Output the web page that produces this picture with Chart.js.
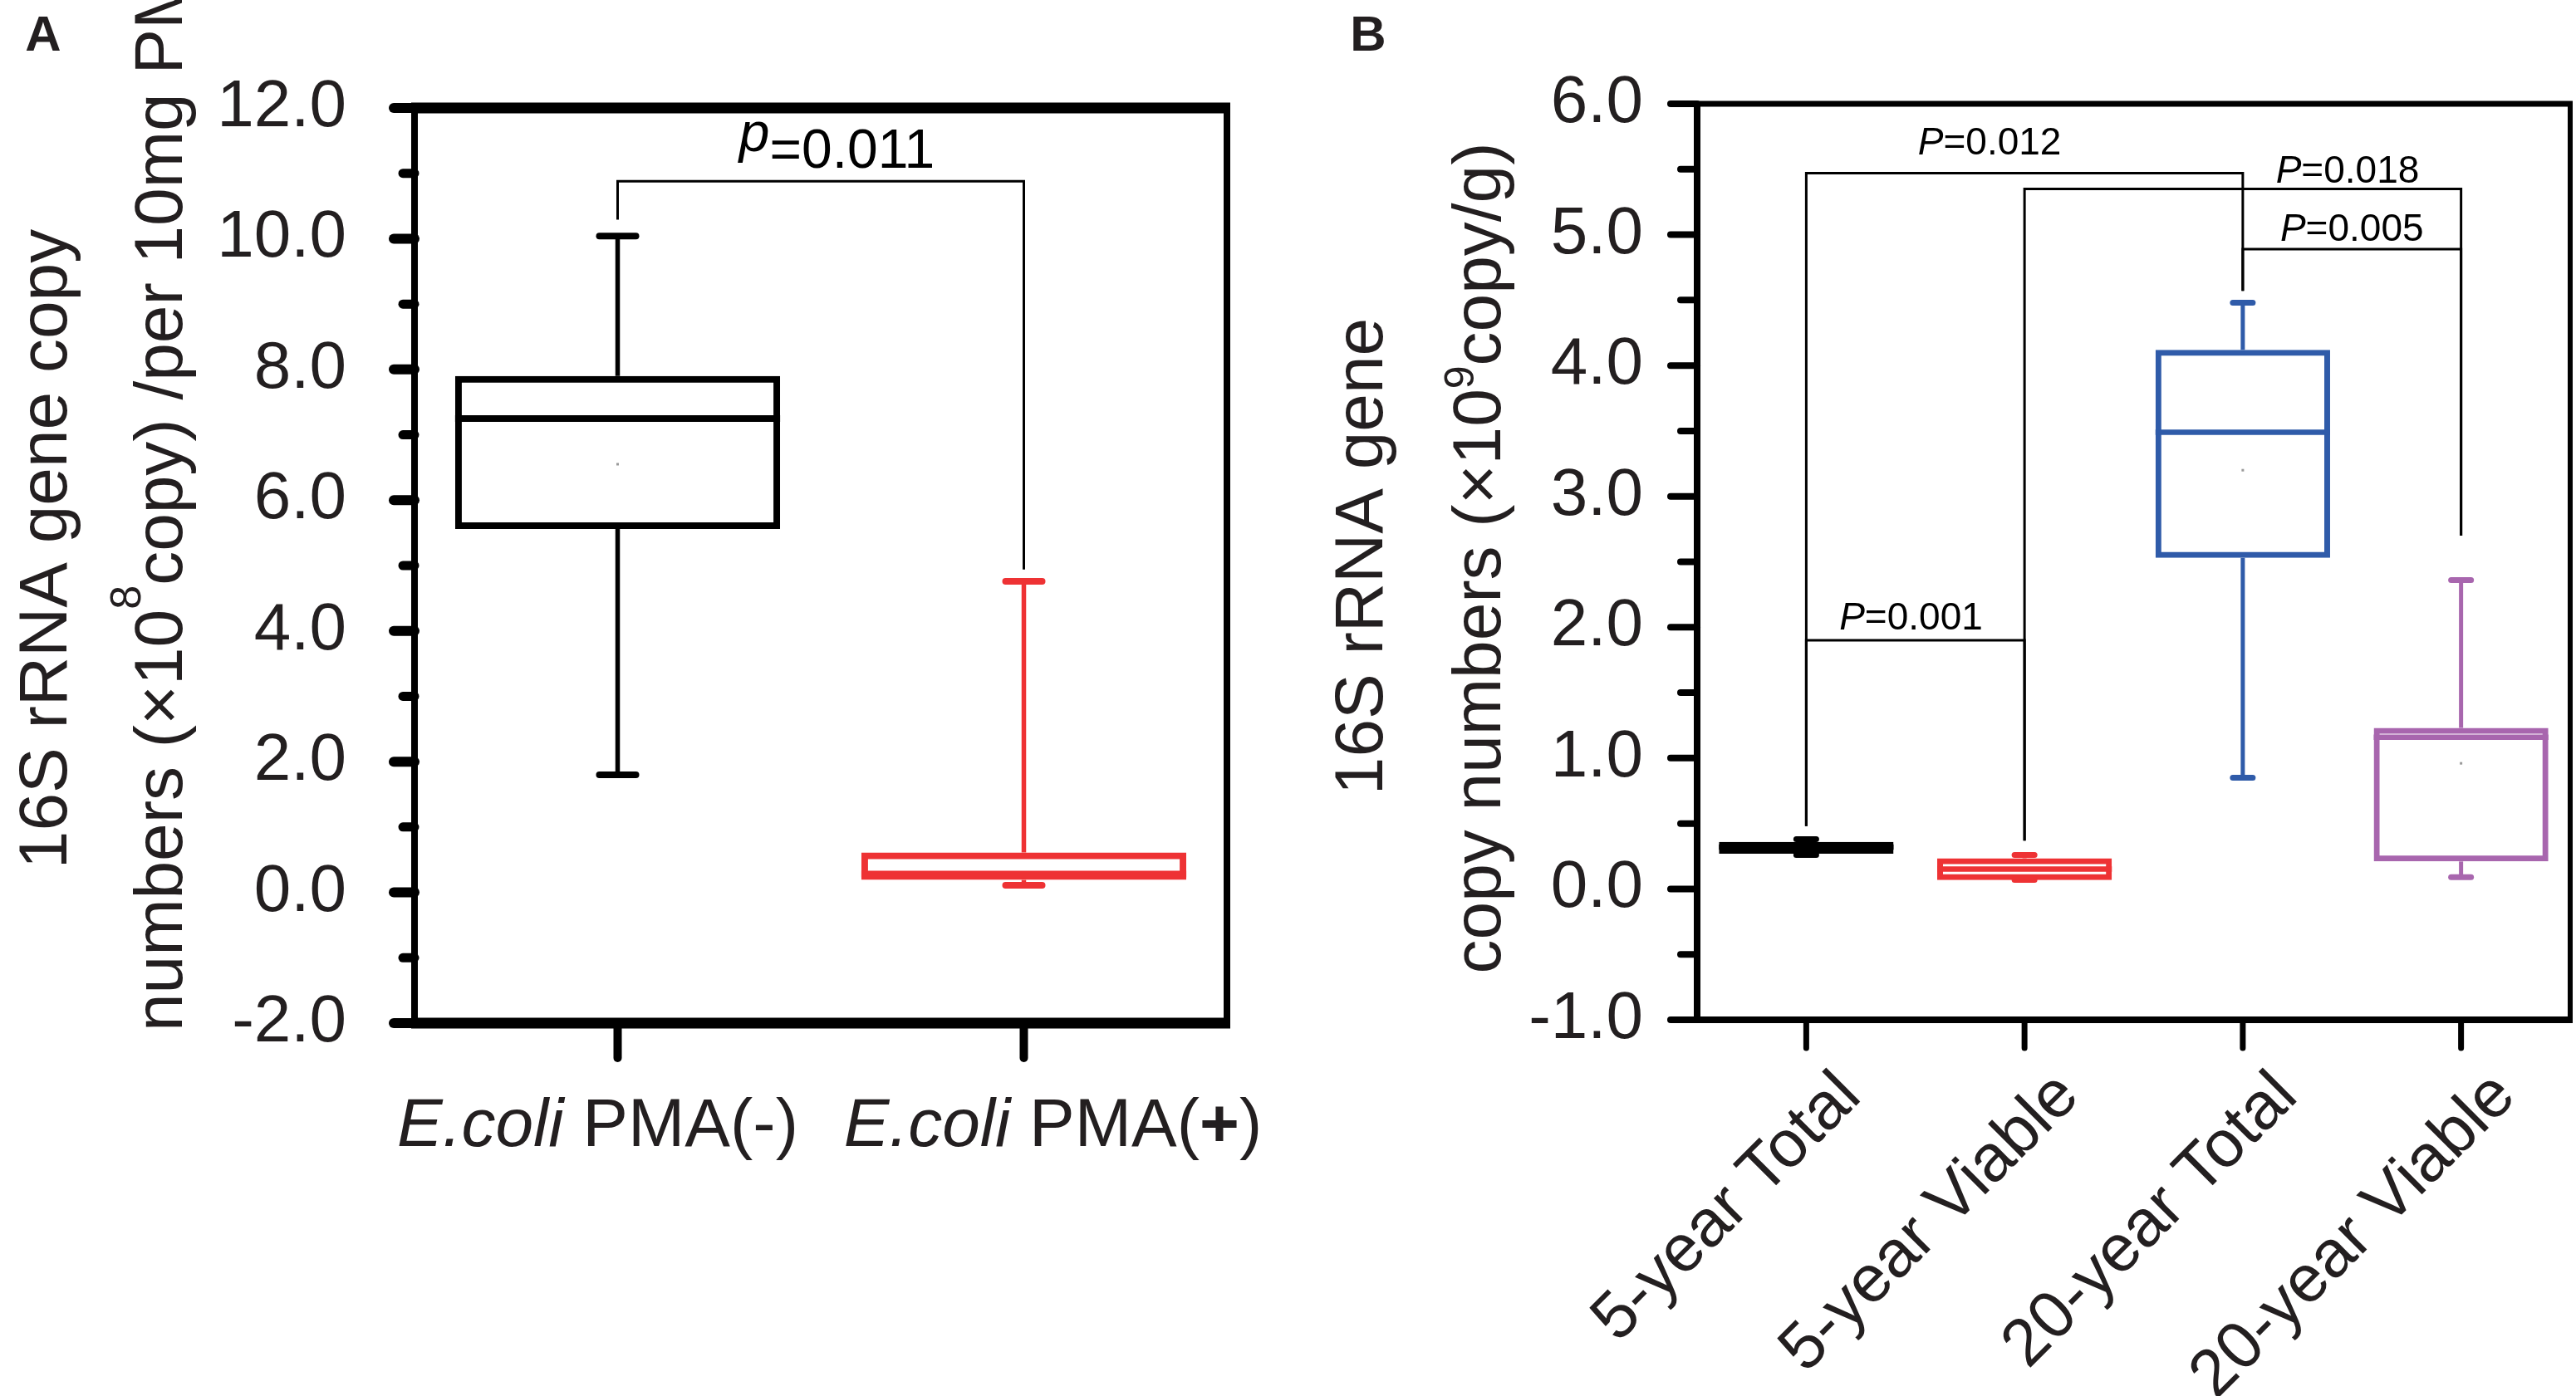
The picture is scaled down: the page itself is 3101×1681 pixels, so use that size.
<!DOCTYPE html>
<html>
<head>
<meta charset="utf-8">
<script src="https://cdn.jsdelivr.net/npm/chart.js@4.4.0/dist/chart.umd.min.js"></script>
<style>
  html, body { margin: 0; padding: 0; background: #fff; }
  body { width: 3101px; height: 1681px; position: relative; overflow: hidden; }
  canvas { position: absolute; top: 0; }
  #chartA { left: 0; }
  #chartB { left: 1600px; }
</style>
</head>
<body>
<canvas id="chartA" width="1600" height="1681"></canvas>
<canvas id="chartB" width="1501" height="1681"></canvas>
<script>
// ---- panel A data ----
var catsA = ['E.coli PMA(-)', 'E.coli PMA(+)'];
var minA = [1.80, 0.11];
var q1A = [5.56, 0.19];
var medA = [7.25, 0.28];
var q3A = [7.90, 0.61];
var maxA = [10.04, 4.76];
var meanA = [6.55, null];
var ticksA = [-2, 0, 2, 4, 6, 8, 10, 12];
// significance bracket A
var pFromA = [0], pToA = [1];
var pTopA = [10.88], pLeftEndA = [10.29], pRightEndA = [4.94];
var pTextA = ['0.011'], pTextXA = [0.54], pTextYA = [11.09];

// ---- panel B data ----
var catsB = ['5-year Total', '5-year Viable', '20-year Total', '20-year Viable'];
var minB = [0.26, 0.07, 0.85, 0.09];
var q1B = [0.27, 0.067, 2.53, 0.21];
var medB = [0.32, 0.152, 3.49, 1.16];
var q3B = [0.36, 0.235, 4.12, 1.23];
var maxB = [0.38, 0.26, 4.48, 2.36];
var meanB = [null, null, 3.2, 0.96];
var ticksB = [-1, 0, 1, 2, 3, 4, 5, 6];
// significance brackets B
var pFromB = [0, 1, 2, 0], pToB = [2, 3, 3, 1];
var pTopB = [5.47, 5.35, 4.89, 1.90];
var pLeftEndB = [0.48, 0.37, 4.57, 0.48];
var pRightEndB = [4.57, 2.70, 2.70, 0.37];
var pTextB = ['0.012', '0.018', '0.005', '0.001'];
var pTextXB = [0.84, 2.48, 2.50, 0.48];
var pTextYB = [5.61, 5.40, 4.95, 1.98];

var FONT = "'Liberation Sans', Arial, Helvetica, sans-serif";
var TEXT = '#231f20';

function seg(ctx, x1, y1, x2, y2) {
  ctx.beginPath(); ctx.moveTo(x1, y1); ctx.lineTo(x2, y2); ctx.stroke();
}

function drawRuns(ctx, x, y, angle, runs, align) {
  var total = 0;
  runs.forEach(function(r) { ctx.font = r.f; r.w = ctx.measureText(r.t).width; total += r.w; });
  ctx.save();
  ctx.translate(x, y);
  ctx.rotate(angle);
  ctx.textAlign = 'left';
  ctx.textBaseline = 'alphabetic';
  var cx = align === 'center' ? -total / 2 : (align === 'right' ? -total : 0);
  runs.forEach(function(r) { ctx.font = r.f; ctx.fillText(r.t, cx, r.dy || 0); cx += r.w; });
  ctx.restore();
}

function boxPlugin(cfg) {
  return {
    id: 'boxPlot',
    afterDatasetsDraw: function(chart) {
      var ctx = chart.ctx, xs = chart.scales.x, ys = chart.scales.y;
      var bars = chart.getDatasetMeta(0).data;
      ctx.save();
      bars.forEach(function(bar, i) {
        var cx = bar.x, half = bar.width / 2;
        ctx.strokeStyle = cfg.colors[i];
        ctx.lineCap = 'butt';
        ctx.lineWidth = cfg.whisker;
        seg(ctx, cx, ys.getPixelForValue(cfg.q3[i]), cx, ys.getPixelForValue(cfg.max[i]));
        seg(ctx, cx, ys.getPixelForValue(cfg.q1[i]), cx, ys.getPixelForValue(cfg.min[i]));
        ctx.lineCap = 'round';
        ctx.lineWidth = cfg.capLine;
        [cfg.max[i], cfg.min[i]].forEach(function(v) {
          var py = ys.getPixelForValue(v);
          seg(ctx, cx - cfg.capHalf, py, cx + cfg.capHalf, py);
        });
        ctx.lineCap = 'butt';
        ctx.lineWidth = cfg.boxLine;
        var pm = ys.getPixelForValue(cfg.med[i]);
        seg(ctx, cx - half, pm, cx + half, pm);
        if (cfg.mean[i] != null) {
          ctx.fillStyle = '#9a9a9a';
          ctx.fillRect(cx - 1.5, ys.getPixelForValue(cfg.mean[i]) - 1.5, 3, 3);
        }
      });
      // significance brackets
      ctx.strokeStyle = '#000';
      ctx.lineWidth = 3;
      ctx.lineJoin = 'miter';
      ctx.lineCap = 'butt';
      cfg.pFrom.forEach(function(f, i) {
        var x1 = xs.getPixelForValue(f), x2 = xs.getPixelForValue(cfg.pTo[i]);
        var yt = ys.getPixelForValue(cfg.pTop[i]);
        ctx.beginPath();
        ctx.moveTo(x1, ys.getPixelForValue(cfg.pLeftEnd[i]));
        ctx.lineTo(x1, yt);
        ctx.lineTo(x2, yt);
        ctx.lineTo(x2, ys.getPixelForValue(cfg.pRightEnd[i]));
        ctx.stroke();
      });
      ctx.fillStyle = '#000';
      cfg.pText.forEach(function(t, i) {
        drawRuns(ctx, xs.getPixelForValue(cfg.pTextX[i]), ys.getPixelForValue(cfg.pTextY[i]), 0, [
          { t: cfg.pLetter, f: 'italic ' + cfg.pSize + 'px ' + FONT, dy: cfg.pRaise },
          { t: '=' + t, f: cfg.pSize + 'px ' + FONT }
        ], 'center');
      });
      ctx.restore();
    },
    afterDraw: function(chart) {
      var ctx = chart.ctx, xs = chart.scales.x, ys = chart.scales.y, a = chart.chartArea;
      ctx.save();
      ctx.strokeStyle = '#000';
      // y ticks, major and minor
      ctx.lineCap = 'round';
      cfg.ticks.forEach(function(v, i) {
        var py = ys.getPixelForValue(v);
        ctx.lineWidth = cfg.majorLW;
        seg(ctx, a.left - cfg.majorLen, py, a.left, py);
        if (i < cfg.ticks.length - 1) {
          var pm = ys.getPixelForValue((v + cfg.ticks[i + 1]) / 2);
          ctx.lineWidth = cfg.minorLW;
          seg(ctx, a.left - cfg.minorLen, pm, a.left, pm);
        }
      });
      // x ticks
      ctx.lineWidth = cfg.xTickLW;
      xs.ticks.forEach(function(t, i) {
        var px = xs.getPixelForValue(i);
        seg(ctx, px, a.bottom, px, a.bottom + cfg.xTickLen);
      });
      // frame
      ctx.lineCap = 'butt';
      ctx.lineWidth = cfg.spine[0];
      seg(ctx, a.left - cfg.spine[3] / 2, a.top, a.right + cfg.spine[1] / 2, a.top);
      ctx.lineWidth = cfg.spine[2];
      seg(ctx, a.left - cfg.spine[3] / 2, a.bottom, a.right + cfg.spine[1] / 2, a.bottom);
      ctx.lineWidth = cfg.spine[3];
      seg(ctx, a.left, a.top, a.left, a.bottom);
      ctx.lineWidth = cfg.spine[1];
      seg(ctx, a.right, a.top, a.right, a.bottom);
      ctx.fillStyle = TEXT;
      cfg.decorate(ctx, chart);
      ctx.restore();
    }
  };
}

function decorateA(ctx, chart) {
  var xs = chart.scales.x;
  ctx.font = 'bold 60px ' + FONT;
  ctx.textAlign = 'center';
  ctx.textBaseline = 'middle';
  ctx.fillText('A', 52, 44);
  var shift = [-24, 35];
  catsA.forEach(function(c, i) {
    var parts = c.split(' ');
    var runs = [{ t: parts[0], f: 'italic 82px ' + FONT }, { t: ' ', f: '82px ' + FONT }];
    parts[1].split('').forEach(function(ch) {
      runs.push({ t: ch, f: (ch === '+' ? 'bold ' : '') + '82px ' + FONT });
    });
    drawRuns(ctx, xs.getPixelForValue(i) + shift[i], 1380, 0, runs, 'center');
  });
  drawRuns(ctx, 80, 661, -Math.PI / 2, [{ t: '16S rRNA gene copy', f: '82px ' + FONT }], 'center');
  drawRuns(ctx, 219, 1242, -Math.PI / 2, [
    { t: 'numbers (\u00d710', f: '82px ' + FONT },
    { t: '8', f: '52px ' + FONT, dy: -50 },
    { t: 'copy) /per 10mg PM', f: '82px ' + FONT }
  ], 'left');
}

function decorateB(ctx, chart) {
  var xs = chart.scales.x;
  ctx.font = 'bold 60px ' + FONT;
  ctx.textAlign = 'center';
  ctx.textBaseline = 'middle';
  ctx.fillText('B', 47, 44);
  ctx.font = '80px ' + FONT;
  catsB.forEach(function(c, i) {
    ctx.save();
    ctx.translate(xs.getPixelForValue(i) + 53, 1307);
    ctx.rotate(-Math.PI / 4);
    ctx.textAlign = 'right';
    ctx.textBaseline = 'middle';
    ctx.fillText(c, 0, 0);
    ctx.restore();
  });
  drawRuns(ctx, 64, 670, -Math.PI / 2, [{ t: '16S rRNA gene', f: '82px ' + FONT }], 'center');
  drawRuns(ctx, 206, 672, -Math.PI / 2, [
    { t: 'copy numbers (\u00d710', f: '82px ' + FONT },
    { t: '9', f: '50px ' + FONT, dy: -32 },
    { t: 'copy/g)', f: '82px ' + FONT }
  ], 'center');
}

function makeChart(id, cats, q1, q3, colors, ticks, yFont, yPad, yWidth, xHeight, pad, borderW, plugin) {
  return new Chart(document.getElementById(id).getContext('2d'), {
    type: 'bar',
    data: {
      labels: cats,
      datasets: [{
        data: q1.map(function(v, i) { return [v, q3[i]]; }),
        backgroundColor: 'rgba(255,255,255,0)',
        borderColor: colors,
        borderWidth: borderW,
        borderSkipped: false,
        categoryPercentage: 1,
        barPercentage: 0.8
      }]
    },
    options: {
      responsive: false,
      devicePixelRatio: 1,
      animation: false,
      layout: { padding: pad },
      plugins: { legend: { display: false }, tooltip: { enabled: false }, title: { display: false } },
      scales: {
        x: {
          grid: { display: false, drawTicks: false },
          border: { display: false },
          ticks: { display: false },
          afterFit: function(s) { s.height = xHeight; }
        },
        y: {
          min: ticks[0],
          max: ticks[ticks.length - 1],
          grid: { display: false, drawTicks: false },
          border: { display: false },
          afterBuildTicks: function(s) { s.ticks = ticks.map(function(v) { return { value: v }; }); },
          ticks: {
            padding: yPad,
            color: TEXT,
            font: { family: FONT, size: yFont },
            callback: function(v) { return Number(v).toFixed(1); }
          },
          afterFit: function(s) { s.width = yWidth; }
        }
      }
    },
    plugins: [plugin]
  });
}

var colorsA = ['#000000', '#ee3234'];
makeChart('chartA', catsA, q1A, q3A, colorsA, ticksA, 80, 82, 499, 449,
  { top: 129, right: 123, left: 0, bottom: 0 }, 8,
  boxPlugin({
    colors: colorsA, q1: q1A, q3: q3A, med: medA, min: minA, max: maxA, mean: meanA,
    whisker: 5.5, capLine: 8, capHalf: 22, boxLine: 8,
    pFrom: pFromA, pTo: pToA, pTop: pTopA, pLeftEnd: pLeftEndA, pRightEnd: pRightEndA,
    pText: pTextA, pTextX: pTextXA, pTextY: pTextYA, pLetter: 'p', pSize: 66, pRaise: -20,
    ticks: ticksA, majorLen: 25, minorLen: 14, majorLW: 12, minorLW: 11,
    xTickLen: 42, xTickLW: 10, spine: [13, 8, 13, 8],
    decorate: decorateA
  }));

var colorsB = ['#000000', '#ee3234', '#2f5ba9', '#a866ae'];
makeChart('chartB', catsB, q1B, q3B, colorsB, ticksB, 80, 65, 443, 453,
  { top: 125, right: 7, left: 0, bottom: 0 }, 7,
  boxPlugin({
    colors: colorsB, q1: q1B, q3: q3B, med: medB, min: minB, max: maxB, mean: meanB,
    whisker: 5, capLine: 7, capHalf: 12, boxLine: 6.5,
    pFrom: pFromB, pTo: pToB, pTop: pTopB, pLeftEnd: pLeftEndB, pRightEnd: pRightEndB,
    pText: pTextB, pTextX: pTextXB, pTextY: pTextYB, pLetter: 'P', pSize: 46, pRaise: 0,
    ticks: ticksB, majorLen: 32, minorLen: 20, majorLW: 8, minorLW: 8,
    xTickLen: 34, xTickLW: 7, spine: [7, 6, 8, 8],
    decorate: decorateB
  }));
</script>
</body>
</html>
